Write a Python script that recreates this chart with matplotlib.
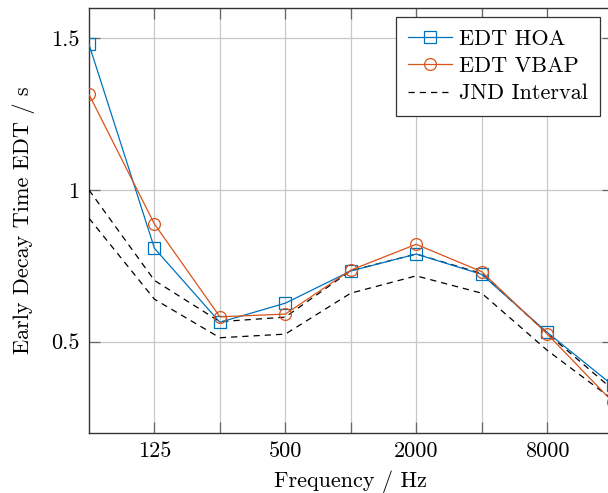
import matplotlib
matplotlib.use("Agg")
import matplotlib.pyplot as plt
from matplotlib.ticker import FixedLocator, FixedFormatter, NullLocator

plt.rcParams['font.family'] = ['cmr10', 'DejaVu Serif']
plt.rcParams['axes.unicode_minus'] = False

freqs = [62.5, 125, 250, 500, 1000, 2000, 4000, 8000, 16000]
edt_hoa = [1.48, 0.808, 0.564, 0.627, 0.733, 0.789, 0.722, 0.531, 0.357]
edt_vbap = [1.315, 0.888, 0.582, 0.591, 0.736, 0.821, 0.731, 0.526, 0.302]
jnd_upper = [1.0, 0.702, 0.566, 0.581, 0.734, 0.789, 0.725, 0.528, 0.343]
jnd_lower = [0.907, 0.640, 0.513, 0.525, 0.660, 0.717, 0.660, 0.472, 0.310]

xtick_vals = [125, 250, 500, 1000, 2000, 4000, 8000]
xtick_labels = ['125', '', '500', '', '2000', '', '8000']
ytick_vals = [0.5, 1.0, 1.5]
ytick_labels = ['0.5', '1', '1.5']

fig = plt.figure(figsize=(6.08, 4.93), dpi=100)
ax = fig.add_axes([89/608, (493-432.7)/493, (612.5-89)/608, (432.7-8)/493])

blue = '#0072BD'
orange = '#D95319'

ax.plot(freqs, edt_hoa, color=blue, lw=0.9, marker='s', ms=8.5, mfc='none',
        mec=blue, mew=0.9, label='EDT HOA', zorder=4)
ax.plot(freqs, edt_vbap, color=orange, lw=0.9, marker='o', ms=8.5, mfc='none',
        mec=orange, mew=0.9, label='EDT VBAP', zorder=4)
ax.plot(freqs, jnd_upper, color='black', lw=0.9, ls=(0, (5, 4)), label='JND Interval', zorder=3)
ax.plot(freqs, jnd_lower, color='black', lw=0.9, ls=(0, (5, 4)), zorder=3)

ax.set_xscale('log')
ax.set_xlim(62.5, 16000)
ax.set_ylim(0.2, 1.6)
ax.xaxis.set_major_locator(FixedLocator(xtick_vals))
ax.xaxis.set_major_formatter(FixedFormatter(xtick_labels))
ax.xaxis.set_minor_locator(NullLocator())
ax.yaxis.set_major_locator(FixedLocator(ytick_vals))
ax.yaxis.set_major_formatter(FixedFormatter(ytick_labels))
ax.yaxis.set_minor_locator(NullLocator())

ax.grid(True, color='#c8c8c8', lw=0.9, zorder=0)
ax.set_axisbelow(True)
ax.tick_params(axis='both', which='major', direction='in', length=8, width=0.9,
               color='#666666', labelsize=16, top=True, right=True)
ax.tick_params(axis='x', pad=6)
ax.tick_params(axis='y', pad=7)
for s in ax.spines.values():
    s.set_color('#333333')
    s.set_linewidth(1.0)

ax.set_xlabel('Frequency / Hz', fontsize=16, labelpad=7)
ax.set_ylabel('Early Decay Time EDT / s', fontsize=16, labelpad=11)

leg = ax.legend(loc='upper right', bbox_to_anchor=((600-89)/(612.5-89), 1 - 9/424.7),
                fontsize=16, frameon=True, fancybox=False, edgecolor='#333333',
                framealpha=1, borderpad=0.55, handlelength=2.0, labelspacing=0.35,
                handletextpad=0.3, borderaxespad=0)
leg.get_frame().set_linewidth(0.9)

fig.savefig('out.png', dpi=100)
